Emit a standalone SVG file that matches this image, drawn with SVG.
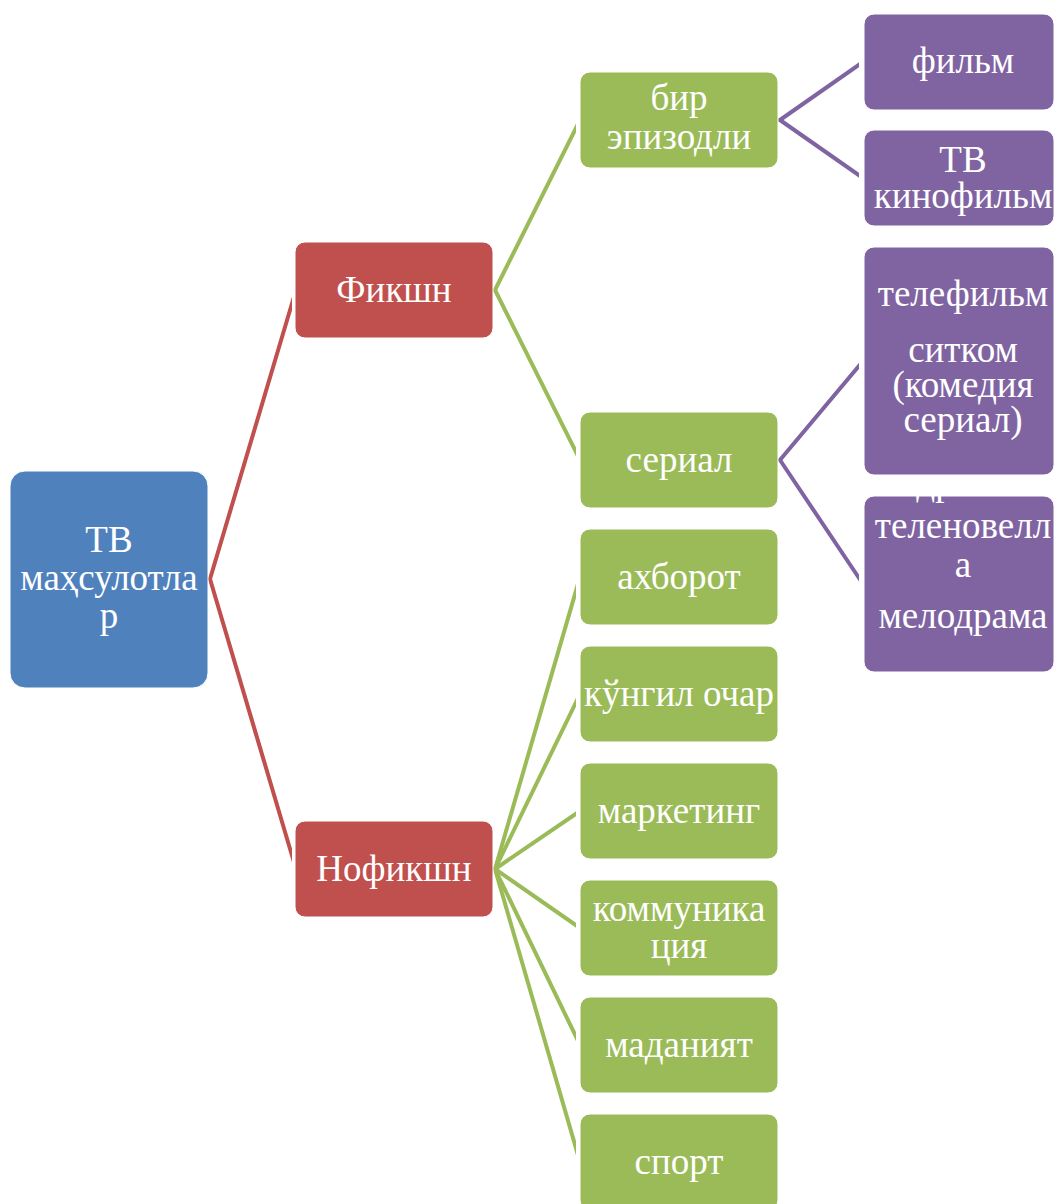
<svg xmlns="http://www.w3.org/2000/svg" width="1054" height="1204" viewBox="0 0 1054 1204">
  <style>
    .node { stroke: #ffffff; stroke-width: 1; }
    .root { fill: #4F81BD; }
    .l1 { fill: #C0504D; }
    .l2 { fill: #9BBB59; }
    .l3 { fill: #8064A2; }
    .label { font-family: "Liberation Serif", "Times New Roman", serif; font-size: 37px; fill: #ffffff; text-anchor: middle; }
    .c1 { stroke: #C0504D; }
    .c2 { stroke: #9BBB59; }
    .c3 { stroke: #8064A2; }
    #connectors line { stroke-width: 4; stroke-linecap: round; fill: none; }
  </style>
  <defs>
    <clipPath id="connClip">
      <rect x="208" y="0" width="84" height="1204"/>
      <rect x="493" y="0" width="83" height="1204"/>
      <rect x="777" y="0" width="82" height="1204"/>
    </clipPath>
    <clipPath id="novClip">
      <rect x="864" y="496" width="190" height="176"/>
    </clipPath>
  </defs>
  <rect width="1054" height="1204" fill="#ffffff"/>

  <!-- connectors -->
  <g id="connectors" clip-path="url(#connClip)">
    <line class="c1" x1="210" y1="579" x2="296" y2="290"/>
    <line class="c1" x1="210" y1="579" x2="296" y2="869"/>

    <line class="c2" x1="495" y1="290" x2="580" y2="120"/>
    <line class="c2" x1="495" y1="290" x2="580" y2="460"/>

    <line class="c2" x1="495" y1="869" x2="580" y2="577"/>
    <line class="c2" x1="495" y1="869" x2="580" y2="694"/>
    <line class="c2" x1="495" y1="869" x2="580" y2="811"/>
    <line class="c2" x1="495" y1="869" x2="580" y2="928"/>
    <line class="c2" x1="495" y1="869" x2="580" y2="1045"/>
    <line class="c2" x1="495" y1="869" x2="580" y2="1162"/>

    <line class="c3" x1="780" y1="120" x2="863" y2="62"/>
    <line class="c3" x1="780" y1="120" x2="863" y2="178"/>
    <line class="c3" x1="780" y1="460" x2="863" y2="361"/>
    <line class="c3" x1="780" y1="460" x2="863" y2="584"/>
  </g>

  <!-- root -->
  <g id="node-tv">
    <rect class="node root" x="10" y="471" width="198" height="217" rx="15"/>
    <text class="label" x="109" y="552">ТВ</text>
    <text class="label" x="109" y="590">маҳсулотла</text>
    <text class="label" x="109" y="628">р</text>
  </g>

  <!-- level 1 -->
  <g id="node-fiction">
    <rect class="node l1" x="295" y="242" width="198" height="96" rx="10"/>
    <text class="label" x="394" y="302">Фикшн</text>
  </g>
  <g id="node-nonfiction">
    <rect class="node l1" x="295" y="821" width="198" height="96" rx="10"/>
    <text class="label" x="394" y="881">Нофикшн</text>
  </g>

  <!-- level 2 -->
  <g id="node-single">
    <rect class="node l2" x="580" y="72" width="198" height="96" rx="10"/>
    <text class="label" x="679" y="110">бир</text>
    <text class="label" x="679" y="149">эпизодли</text>
  </g>
  <g id="node-serial">
    <rect class="node l2" x="580" y="412" width="198" height="96" rx="10"/>
    <text class="label" x="679" y="472">сериал</text>
  </g>
  <g id="node-news">
    <rect class="node l2" x="580" y="529" width="198" height="96" rx="10"/>
    <text class="label" x="679" y="589">ахборот</text>
  </g>
  <g id="node-entertainment">
    <rect class="node l2" x="580" y="646" width="198" height="96" rx="10"/>
    <text class="label" x="679" y="706">кўнгил очар</text>
  </g>
  <g id="node-marketing">
    <rect class="node l2" x="580" y="763" width="198" height="96" rx="10"/>
    <text class="label" x="679" y="823">маркетинг</text>
  </g>
  <g id="node-communication">
    <rect class="node l2" x="580" y="880" width="198" height="96" rx="10"/>
    <text class="label" x="679" y="921">коммуника</text>
    <text class="label" x="679" y="958">ция</text>
  </g>
  <g id="node-culture">
    <rect class="node l2" x="580" y="997" width="198" height="96" rx="10"/>
    <text class="label" x="679" y="1057">маданият</text>
  </g>
  <g id="node-sport">
    <rect class="node l2" x="580" y="1114" width="198" height="96" rx="10"/>
    <text class="label" x="679" y="1174">спорт</text>
  </g>

  <!-- level 3 -->
  <g id="node-film">
    <rect class="node l3" x="864" y="14" width="190" height="96" rx="10"/>
    <text class="label" x="963" y="73">фильм</text>
  </g>
  <g id="node-tvfilm">
    <rect class="node l3" x="864" y="130" width="190" height="96" rx="10"/>
    <text class="label" x="963" y="172">ТВ</text>
    <text class="label" x="963" y="208">кинофильм</text>
  </g>
  <g id="node-telefilm">
    <rect class="node l3" x="864" y="247" width="190" height="228" rx="10"/>
    <text class="label" x="963" y="306">телефильм</text>
    <text class="label" x="963" y="362">ситком</text>
    <text class="label" x="963" y="397">(комедия</text>
    <text class="label" x="963" y="432">сериал)</text>
  </g>
  <g id="node-telenovela">
    <rect class="node l3" x="864" y="496" width="190" height="176" rx="10"/>
    <!-- first line overflows above the box; only its descenders show on the fill -->
    <text class="label" x="963" y="495" clip-path="url(#novClip)">драма</text>
    <text class="label" x="963" y="538">теленовелл</text>
    <text class="label" x="963" y="577">а</text>
    <text class="label" x="963" y="628">мелодрама</text>
  </g>
</svg>
